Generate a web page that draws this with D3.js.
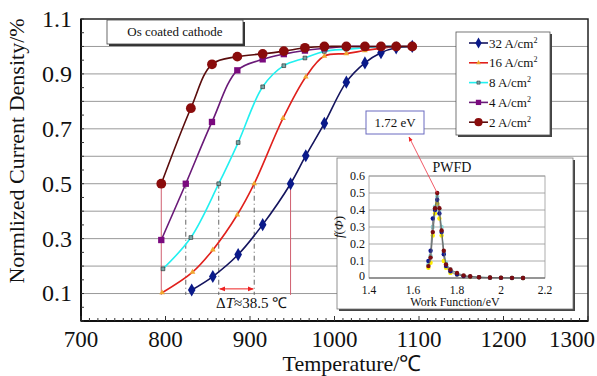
<!DOCTYPE html>
<html lang="en">
<head>
<meta charset="UTF-8">
<title>Normalized current density vs temperature</title>
<script src="https://d3js.org/d3.v7.min.js"></script>
<style>
  body { margin: 0; background: #fff; }
  text { font-family: "Liberation Serif", "Times New Roman", serif; fill: #111; }
</style>
</head>
<body>
<svg id="chart"></svg>
<script>
// ---- main chart data ----
const seriesNames = ["32 A/cm", "16 A/cm", "8 A/cm", "4 A/cm", "2 A/cm"];
const temps32 = [831, 856, 886, 915, 948, 966, 988, 1014, 1036, 1055, 1073, 1092];
const vals32  = [0.113, 0.162, 0.242, 0.351, 0.5, 0.602, 0.72, 0.87, 0.94, 0.977, 0.995, 1.0];
const temps16 = [796, 832, 856, 885, 905, 939, 966, 988, 1014, 1036, 1055, 1073, 1092];
const vals16  = [0.103, 0.178, 0.259, 0.387, 0.5, 0.738, 0.889, 0.965, 0.974, 0.985, 0.993, 1.0, 1.0];
const temps8  = [797, 830, 863, 886, 915, 940, 965, 988, 1014, 1036, 1055, 1073, 1092];
const vals8   = [0.19, 0.304, 0.5, 0.65, 0.853, 0.93, 0.958, 0.982, 0.99, 0.995, 1.0, 1.0, 1.0];
const temps4  = [795, 824, 855, 885, 915, 940, 965, 988, 1014, 1036, 1055, 1073, 1092];
const vals4   = [0.295, 0.5, 0.725, 0.913, 0.953, 0.972, 0.985, 0.993, 1.0, 1.0, 1.0, 1.0, 1.0];
const temps2  = [795, 830, 855, 885, 915, 940, 965, 988, 1014, 1036, 1055, 1073, 1092];
const vals2   = [0.5, 0.775, 0.935, 0.963, 0.973, 0.983, 0.995, 1.0, 1.0, 1.0, 1.0, 1.0, 1.0];

const xTicks = [700, 800, 900, 1000, 1100, 1200, 1300];
const yTicks = [0.1, 0.3, 0.5, 0.7, 0.9, 1.1];
const yGrid  = [0.1, 0.2, 0.3, 0.4, 0.5, 0.6, 0.7, 0.8, 0.9, 1.0];

// ---- inset (PWFD) data ----
const wf      = [1.67, 1.68, 1.69, 1.70, 1.71, 1.72, 1.73, 1.74, 1.75, 1.77, 1.80, 1.83, 1.86, 1.90, 1.95, 2.00, 2.05, 2.10];
const pwfdA   = [0.07, 0.12, 0.27, 0.41, 0.50, 0.41, 0.28, 0.16, 0.08, 0.05, 0.03, 0.015, 0.01, 0.005, 0.003, 0.002, 0.001, 0.0];
const pwfdB   = [0.10, 0.16, 0.35, 0.40, 0.46, 0.38, 0.27, 0.14, 0.07, 0.04, 0.02, 0.01, 0.008, 0.004, 0.002, 0.001, 0.0, 0.0];
const pwfdC   = [0.06, 0.09, 0.25, 0.38, 0.44, 0.35, 0.25, 0.10, 0.06, 0.03, 0.02, 0.01, 0.006, 0.004, 0.002, 0.001, 0.0, 0.0];
const pwfdD   = [0.08, 0.13, 0.30, 0.42, 0.48, 0.40, 0.30, 0.15, 0.09, 0.05, 0.025, 0.012, 0.008, 0.005, 0.003, 0.002, 0.001, 0.0];
const insetXTicks = [1.4, 1.6, 1.8, 2.0, 2.2];
const insetYTicks = [0, 0.1, 0.2, 0.3, 0.4, 0.5, 0.6];

const W = 597, H = 376;
const svg = d3.select("#chart").attr("width", W).attr("height", H);

const x = d3.scaleLinear().domain([700, 1300]).range([81, 588]);
const y = d3.scaleLinear().domain([0, 1.1]).range([321, 19]);

// grid
svg.append("g").selectAll("line").data(yGrid).enter().append("line")
  .attr("x1", x(700)).attr("x2", x(1300))
  .attr("y1", d => y(d)).attr("y2", d => y(d))
  .attr("stroke", "#999").attr("stroke-width", 1);

// frame
svg.append("rect").attr("x", x(700)).attr("y", y(1.1))
  .attr("width", x(1300) - x(700)).attr("height", y(0) - y(1.1))
  .attr("fill", "none").attr("stroke", "#222").attr("stroke-width", 1.5);
svg.append("line").attr("x1", x(700)).attr("x2", x(1300)).attr("y1", y(0)).attr("y2", y(0))
  .attr("stroke", "#111").attr("stroke-width", 2);
svg.append("line").attr("x1", x(700)).attr("x2", x(700)).attr("y1", y(0)).attr("y2", y(1.1))
  .attr("stroke", "#111").attr("stroke-width", 2);

// minor ticks inside
svg.append("g").selectAll("line").data(d3.range(700, 1301, 10)).enter().append("line")
  .attr("x1", d => x(d)).attr("x2", d => x(d))
  .attr("y1", y(0)).attr("y2", d => y(0) - (d % 100 === 0 ? 5 : 3))
  .attr("stroke", "#333");
svg.append("g").selectAll("line").data(d3.range(0, 1.101, 0.05)).enter().append("line")
  .attr("x1", x(700)).attr("x2", x(700) + 3)
  .attr("y1", d => y(d)).attr("y2", d => y(d))
  .attr("stroke", "#333");

// tick labels (the last one is pulled inside the picture, as in the figure)
svg.append("g").selectAll("text").data(xTicks).enter().append("text")
  .attr("x", (d, i) => i === xTicks.length - 1 ? W - 2 : x(d))
  .attr("y", 347)
  .attr("text-anchor", (d, i) => i === xTicks.length - 1 ? "end" : "middle")
  .style("font-size", "23px").text(d => d);
svg.append("g").selectAll("text").data(yTicks).enter().append("text")
  .attr("x", 72).attr("y", d => y(d)).attr("dy", "0.33em").attr("text-anchor", "end")
  .style("font-size", "24px").text(d => d.toFixed(1));

// axis titles
svg.append("text").attr("x", 352).attr("y", 371).attr("text-anchor", "middle")
  .style("font-size", "22px").text("Temperature/℃");
svg.append("text").attr("transform", "translate(24,151) rotate(-90)").attr("text-anchor", "middle")
  .style("font-size", "22px").text("Normlized Current Density/%");

// series styles
const series = [
  { name: seriesNames[0], t: temps32, v: vals32, line: "#14145e", fill: "#0a1a8a", shape: d3.symbolDiamond, size: 50 },
  { name: seriesNames[1], t: temps16, v: vals16, line: "#e0201c", fill: "#f0a830", shape: d3.symbolTriangle, size: 14 },
  { name: seriesNames[2], t: temps8,  v: vals8,  line: "#22f0f0", fill: "#7aa8a8", shape: d3.symbolSquare, size: 14 },
  { name: seriesNames[3], t: temps4,  v: vals4,  line: "#6a1a78", fill: "#7a0a7e", shape: d3.symbolSquare, size: 40 },
  { name: seriesNames[4], t: temps2,  v: vals2,  line: "#5a0c0c", fill: "#8a0c0c", shape: d3.symbolCircle, size: 75 }
];
const halfT = series.map(s => s.t[s.v.indexOf(0.5)]);

// drop lines at 0.5
const drops = svg.append("g");
series.forEach((s, i) => {
  const solid = (i === 0 || i === 4);
  drops.append("line")
    .attr("x1", x(halfT[i])).attr("x2", x(halfT[i]))
    .attr("y1", y(0.5)).attr("y2", y(0.095))
    .attr("stroke", solid ? "#d06070" : "#666")
    .attr("stroke-width", 1)
    .attr("stroke-dasharray", solid ? null : "5,3,1,3");
});

// delta T arrow between 8 and 16 A/cm2
svg.append("defs").html(`
  <marker id="ah" viewBox="0 0 10 10" refX="9" refY="5" markerWidth="6" markerHeight="6" orient="auto-start-reverse">
    <path d="M0,1 L10,5 L0,9 z" fill="#ee2020"/>
  </marker>`);
svg.append("line")
  .attr("x1", x(halfT[2]) + 1).attr("x2", x(halfT[1]) - 1)
  .attr("y1", y(0.117)).attr("y2", y(0.117))
  .attr("stroke", "#ee2020").attr("stroke-width", 1)
  .attr("marker-start", "url(#ah)").attr("marker-end", "url(#ah)");
const dt = svg.append("text").attr("x", 216).attr("y", 308).style("font-size", "15px");
dt.append("tspan").text("Δ");
dt.append("tspan").style("font-style", "italic").text("T");
dt.append("tspan").text("≈38.5  ℃");

// curves
const line = d3.line().curve(d3.curveCatmullRom.alpha(0.5)).x(d => x(d[0])).y(d => y(d[1]));
series.forEach(s => {
  const pts = s.t.map((t, j) => [t, s.v[j]]);
  svg.append("path").datum(pts).attr("d", line)
    .attr("fill", "none").attr("stroke", s.line).attr("stroke-width", 1.6);
});
series.forEach(s => {
  const pts = s.t.map((t, j) => [t, s.v[j]]);
  svg.append("g").selectAll("path").data(pts).enter().append("path")
    .attr("d", d3.symbol().type(s.shape).size(s.size))
    .attr("transform", d => `translate(${x(d[0])},${y(d[1])})`)
    .attr("fill", s.fill)
    .attr("stroke", s.shape === d3.symbolSquare && s.size < 20 ? "#222" : "none")
    .attr("stroke-width", 0.6);
});

// "Os coated cathode" label
svg.append("rect").attr("x", 109).attr("y", 22).attr("width", 136).attr("height", 24).attr("fill", "#333");
svg.append("rect").attr("x", 107).attr("y", 20).attr("width", 136).attr("height", 24)
  .attr("fill", "#fff").attr("stroke", "#444").attr("stroke-width", 0.8);
svg.append("text").attr("x", 175).attr("y", 36).attr("text-anchor", "middle")
  .style("font-size", "13px").text("Os coated cathode");

// legend
const lg = svg.append("g");
lg.append("rect").attr("x", 458).attr("y", 34).attr("width", 94).attr("height", 103).attr("fill", "#444");
lg.append("rect").attr("x", 456).attr("y", 32).attr("width", 94).attr("height", 103)
  .attr("fill", "#fff").attr("stroke", "#555").attr("stroke-width", 0.8);
series.forEach((s, i) => {
  const yy = 43 + i * 19.8;
  lg.append("line").attr("x1", 469).attr("x2", 488).attr("y1", yy).attr("y2", yy)
    .attr("stroke", s.line).attr("stroke-width", 1.6);
  lg.append("path").attr("d", d3.symbol().type(s.shape).size(s.size * 0.7))
    .attr("transform", `translate(478.5,${yy})`).attr("fill", s.fill)
    .attr("stroke", s.shape === d3.symbolSquare && s.size < 20 ? "#222" : "none").attr("stroke-width", 0.5);
  const t = lg.append("text").attr("x", 489).attr("y", yy + 4.5).style("font-size", "13px");
  t.append("tspan").text(s.name);
  t.append("tspan").attr("dy", -5).style("font-size", "8px").text("2");
});

// ---- inset ----
const ix = d3.scaleLinear().domain([1.4, 2.2]).range([369, 545]);
const iy = d3.scaleLinear().domain([0, 0.6]).range([278, 176]);
svg.append("rect").attr("x", 339).attr("y", 160).attr("width", 236).attr("height", 151).attr("fill", "#444");
svg.append("rect").attr("x", 337).attr("y", 158).attr("width", 236).attr("height", 151)
  .attr("fill", "#fff").attr("stroke", "#777").attr("stroke-width", 0.8);

svg.append("g").selectAll("line").data(insetYTicks.slice(1)).enter().append("line")
  .attr("x1", ix(1.4)).attr("x2", ix(2.2)).attr("y1", d => iy(d)).attr("y2", d => iy(d))
  .attr("stroke", "#aaa").attr("stroke-width", 1);
svg.append("rect").attr("x", ix(1.4)).attr("y", iy(0.6)).attr("width", ix(2.2) - ix(1.4)).attr("height", iy(0) - iy(0.6))
  .attr("fill", "none").attr("stroke", "#999").attr("stroke-width", 0.8);
svg.append("line").attr("x1", ix(1.4)).attr("x2", ix(2.2)).attr("y1", iy(0)).attr("y2", iy(0))
  .attr("stroke", "#555").attr("stroke-width", 1);

svg.append("g").selectAll("text").data(insetXTicks).enter().append("text")
  .attr("x", d => ix(d)).attr("y", 294).attr("text-anchor", "middle")
  .style("font-size", "11.5px").text(d => d === 2 ? "2" : d.toFixed(1));
svg.append("g").selectAll("text").data(insetYTicks).enter().append("text")
  .attr("x", 365).attr("y", d => iy(d)).attr("dy", d => d === 0 ? "0.2em" : "0.33em").attr("text-anchor", "end")
  .style("font-size", "12px").text(d => d === 0 ? "0" : d.toFixed(1));
svg.append("text").attr("x", 455).attr("y", 306).attr("text-anchor", "middle")
  .style("font-size", "12px").text("Work Function/eV");
svg.append("text").attr("x", 452).attr("y", 172).attr("text-anchor", "middle")
  .style("font-size", "14px").text("PWFD");
const fl = svg.append("text").attr("transform", "translate(343,227) rotate(-90)").attr("text-anchor", "middle")
  .style("font-size", "13px");
fl.append("tspan").style("font-style", "italic").text("f");
fl.append("tspan").text("(");
fl.append("tspan").style("font-style", "italic").text("Φ");
fl.append("tspan").text(")");

const iline = d3.line().x(d => ix(d[0])).y(d => iy(d[1]));
const insetSeries = [
  { v: pwfdD, c: "#8fd8d8", s: "#80cccc" },
  { v: pwfdC, c: "#ffee00", s: "#a0a0a0" },
  { v: pwfdB, c: "#101890", s: "#707070" },
  { v: pwfdA, c: "#7a0c10", s: "#606060" }
];
insetSeries.forEach(s => {
  const pts = wf.map((w, j) => [w, s.v[j]]);
  svg.append("path").datum(pts).attr("d", iline)
    .attr("fill", "none").attr("stroke", s.s).attr("stroke-width", 0.8);
  svg.append("g").selectAll("circle").data(pts).enter().append("circle")
    .attr("cx", d => ix(d[0])).attr("cy", d => iy(d[1])).attr("r", 2.2)
    .attr("fill", s.c);
});

// 1.72 eV callout
svg.append("rect").attr("x", 366).attr("y", 111).attr("width", 58).attr("height", 23)
  .attr("fill", "#fff").attr("stroke", "#6a6ac0").attr("stroke-width", 1);
svg.append("text").attr("x", 395).attr("y", 127).attr("text-anchor", "middle")
  .style("font-size", "13px").text("1.72 eV");
const peakIdx = pwfdA.indexOf(d3.max(pwfdA));
svg.append("line")
  .attr("x1", ix(wf[peakIdx])).attr("y1", iy(pwfdA[peakIdx]))
  .attr("x2", 409).attr("y2", 137)
  .attr("stroke", "#ee3040").attr("stroke-width", 0.8)
  .attr("marker-end", "url(#ah)");
</script>
</body>
</html>
